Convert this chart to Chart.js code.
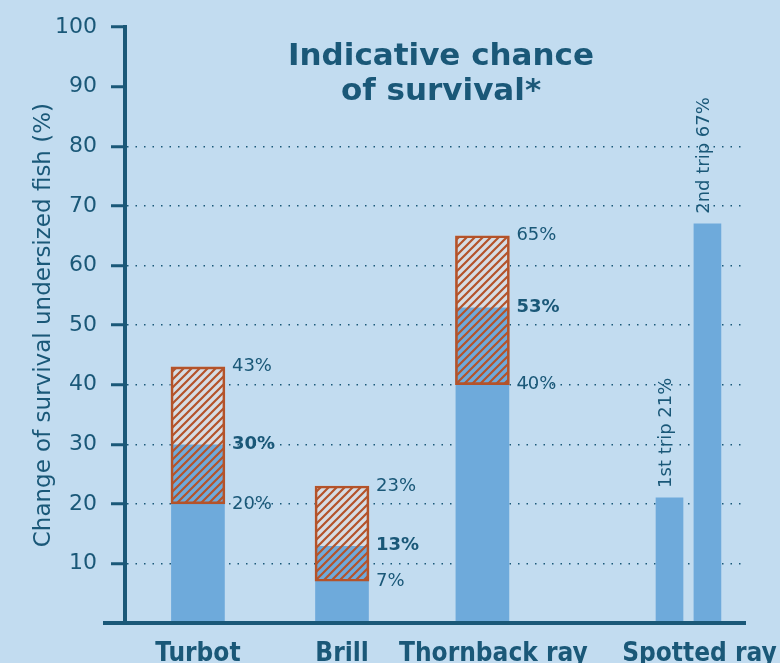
<!DOCTYPE html>
<html>
<head>
<meta charset="utf-8">
<script src="https://cdn.jsdelivr.net/npm/chart.js@4"></script>
<style>
  html, body { margin: 0; padding: 0; width: 780px; height: 663px; overflow: hidden; background: #c2dcf0; }
  #caja { width: 780px; height: 680px; }
</style>
</head>
<body>
<div id="caja"><canvas id="myChart"></canvas></div>
<script>
// datos
const especies = ['Turbot', 'Brill', 'Thornback ray', 'Spotted ray']
const minimos = [20, 7, 40]
const medios = [30, 13, 53]
const maximos = [43, 23, 65]
const viajes = ['1st trip', '2nd trip']
const valoresViaje = [21, 67]
const ticksY = [0, 10, 20, 30, 40, 50, 60, 70, 80, 90, 100]

const tituloGrafico = ['Indicative chance', 'of survival*']
const tituloEje = 'Change of survival undersized fish (%)'

// posiciones sobre el eje x (lineal)
const posBarras = [2, 5.95, 9.8, 15.45]
const posEtiquetas = [2, 5.95, 10.1, 15.75]
const separacionViaje = 0.52

const azulOscuro = '#1a5878'
const azulBarra = '#6eaadb'
const naranja = '#b4532a'
const relleno = '#d6dde4'

Chart.defaults.font.family = '"DejaVu Sans", Verdana, sans-serif'

function rayado(ctx) {
    const c = document.createElement('canvas')
    c.width = 8
    c.height = 8
    const g = c.getContext('2d')
    g.strokeStyle = naranja
    g.lineWidth = 2.2
    g.beginPath()
    g.moveTo(0, 8); g.lineTo(8, 0)
    g.moveTo(-2, 2); g.lineTo(2, -2)
    g.moveTo(6, 10); g.lineTo(10, 6)
    g.stroke()
    return ctx.createPattern(c, 'repeat')
}

// textos de porcentaje, titulo y prolongacion del eje x
const extras = {
    id: 'extras',
    afterDraw(chart) {
        const ctx = chart.ctx
        const y = chart.scales.y
        const area = chart.chartArea
        ctx.save()
        ctx.fillStyle = azulOscuro
        ctx.textAlign = 'left'
        ctx.textBaseline = 'middle'

        chart.getDatasetMeta(0).data.forEach((bar, i) => {
            const x = bar.x + bar.width / 2 + 7
            ctx.font = '18px "DejaVu Sans"'
            ctx.fillText(maximos[i] + '%', x, y.getPixelForValue(maximos[i]))
            ctx.fillText(minimos[i] + '%', x, y.getPixelForValue(minimos[i]))
            ctx.font = 'bold 18px "DejaVu Sans"'
            ctx.fillText(medios[i] + '%', x, y.getPixelForValue(medios[i]))
        })

        ctx.font = '18px "DejaVu Sans"'
        chart.getDatasetMeta(3).data.forEach((bar, i) => {
            ctx.save()
            ctx.translate(bar.x - 3, bar.y - 10)
            ctx.rotate(-Math.PI / 2)
            ctx.fillText(viajes[i] + ' ' + valoresViaje[i] + '%', 0, 0)
            ctx.restore()
        })

        ctx.font = 'bold 31px "DejaVu Sans"'
        ctx.textAlign = 'center'
        ctx.textBaseline = 'alphabetic'
        ctx.fillText(tituloGrafico[0], area.left + 316, area.top + 38)
        ctx.fillText(tituloGrafico[1], area.left + 316, area.top + 73)

        ctx.strokeStyle = azulOscuro
        ctx.lineWidth = 4
        ctx.beginPath()
        ctx.moveTo(area.left - 22, area.bottom)
        ctx.lineTo(area.left, area.bottom)
        ctx.stroke()
        ctx.restore()
    }
}

function grafico_supervivencia() {
    const ctx = document.getElementById('myChart')

    new Chart(ctx, {
        type: 'bar',
        data: {
            datasets: [{
                label: 'rango',
                data: minimos.map((v, i) => ({ x: posBarras[i], y: [v, maximos[i]] })),
                backgroundColor: rayado(ctx.getContext('2d')),
                borderColor: naranja,
                borderWidth: 2,
                borderSkipped: false,
                barThickness: 54,
                grouped: false,
                order: 0
            }, {
                label: 'superior',
                data: medios.map((v, i) => ({ x: posBarras[i], y: [v, maximos[i]] })),
                backgroundColor: relleno,
                barThickness: 54,
                grouped: false,
                order: 1
            }, {
                label: 'medio',
                data: medios.map((v, i) => ({ x: posBarras[i], y: v })),
                backgroundColor: azulBarra,
                barThickness: 53,
                grouped: false,
                order: 2
            }, {
                label: 'viajes',
                data: valoresViaje.map((v, i) => ({ x: posBarras[3] + (i === 0 ? -1 : 1) * separacionViaje, y: v })),
                backgroundColor: azulBarra,
                barThickness: 27,
                grouped: false,
                order: 2
            }]
        },
        options: {
            responsive: true,
            maintainAspectRatio: false,
            animation: false,
            events: [],
            layout: { padding: { top: 25, right: 35, left: 0, bottom: 0 } },
            plugins: { legend: { display: false }, tooltip: { enabled: false } },
            scales: {
                x: {
                    type: 'linear',
                    min: 0,
                    max: 17,
                    offset: false,
                    afterBuildTicks: s => { s.ticks = posEtiquetas.map(v => ({ value: v })) },
                    afterFit: s => {
                        s.height = 57
                        s.paddingLeft = 0
                        s.paddingRight = 0
                    },
                    ticks: {
                        autoSkip: false,
                        maxRotation: 0,
                        padding: 16,
                        color: azulOscuro,
                        font: { family: '"DejaVu Sans Condensed", "DejaVu Sans"', size: 26, weight: 'bold' },
                        callback: (v, i) => especies[i]
                    },
                    grid: { display: false, drawTicks: false },
                    border: { color: azulOscuro, width: 4, z: 1 }
                },
                y: {
                    min: 0,
                    max: 100,
                    afterBuildTicks: s => { s.ticks = ticksY.map(v => ({ value: v })) },
                    afterFit: s => { s.width = 125 },
                    ticks: {
                        padding: 14,
                        color: azulOscuro,
                        font: { size: 22 },
                        callback: v => v === 0 ? '' : v
                    },
                    grid: {
                        color: c => (c.tick && c.tick.value > 0 && c.tick.value <= 80) ? azulOscuro : 'transparent',
                        lineWidth: 1.5,
                        tickLength: 14,
                        tickWidth: 3,
                        tickColor: azulOscuro
                    },
                    border: { color: azulOscuro, width: 4, dash: [1.5, 7] },
                    title: {
                        display: true,
                        text: tituloEje,
                        color: azulOscuro,
                        font: { size: 23 },
                        padding: { top: 30, bottom: 0 }
                    }
                }
            }
        },
        plugins: [extras]
    })
}

grafico_supervivencia()
</script>
</body>
</html>
